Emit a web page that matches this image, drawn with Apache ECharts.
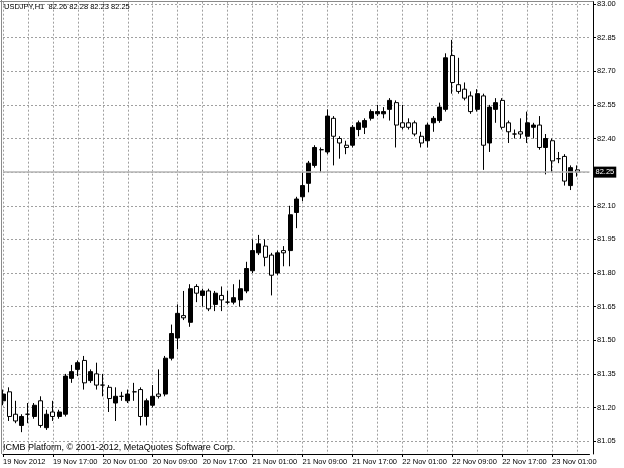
<!DOCTYPE html>
<html><head><meta charset="utf-8">
<script src="https://cdn.jsdelivr.net/npm/echarts@6/dist/echarts.min.js"></script>
<style>html,body{margin:0;padding:0;background:#fff}#c{width:624px;height:468px}</style>
</head><body><div id="c"></div>
<script>
const symbol = 'USDJPY,H1';
const footer = 'ICMB Platform, \u00a9 2001-2012, MetaQuotes Software Corp.';
const startHourUTC = Date.UTC(2012, 10, 19, 9);
const slots = 95; // 93 bars + 2 empty slots of chart shift
const tickLabels = ['19 Nov 2012','19 Nov 17:00','20 Nov 01:00','20 Nov 09:00','20 Nov 17:00','21 Nov 01:00',
  '21 Nov 09:00','21 Nov 17:00','22 Nov 01:00','22 Nov 09:00','22 Nov 17:00','23 Nov 01:00'];
const yTicks = [81.05,81.20,81.35,81.50,81.65,81.80,81.95,82.10,82.25,82.40,82.55,82.70,82.85,83.00];

const opens = [81.23,81.27,81.17,81.12,81.17,81.16,81.23,81.11,81.18,81.16,
  81.17,81.33,81.37,81.41,81.32,81.35,81.30,81.29,81.22,81.25,
  81.23,81.27,81.28,81.16,81.21,81.26,81.26,81.42,81.51,81.61,
  81.58,81.74,81.70,81.72,81.66,81.70,81.67,81.67,81.68,81.72,
  81.81,81.89,81.92,81.88,81.80,81.90,81.90,82.07,82.14,82.20,
  82.28,82.35,82.34,82.49,82.40,82.37,82.37,82.44,82.45,82.49,
  82.51,82.51,82.53,82.56,82.47,82.47,82.47,82.41,82.39,82.47,
  82.48,82.53,82.77,82.64,82.62,82.59,82.53,82.59,82.38,82.53,
  82.57,82.47,82.42,82.43,82.41,82.45,82.46,82.36,82.39,82.31,
  82.32,82.19,82.26];
const closes = [81.26,81.16,81.14,81.16,81.17,81.21,81.12,81.17,81.16,81.18,
  81.34,81.36,81.40,81.31,81.36,81.30,81.30,81.24,81.25,81.25,
  81.26,81.27,81.16,81.23,81.25,81.25,81.42,81.53,81.62,81.60,
  81.73,81.71,81.72,81.64,81.71,81.68,81.67,81.69,81.73,81.82,
  81.90,81.93,81.87,81.79,81.89,81.89,82.06,82.13,82.19,82.29,
  82.36,82.35,82.50,82.41,82.38,82.36,82.45,82.47,82.48,82.52,
  82.52,82.52,82.57,82.46,82.45,82.45,82.42,82.38,82.46,82.49,
  82.54,82.76,82.65,82.61,82.58,82.52,82.60,82.37,82.54,82.56,
  82.45,82.43,82.42,82.42,82.47,82.46,82.36,82.40,82.30,82.31,
  82.21,82.27,82.25];
const lows = [81.21,81.14,81.13,81.09,81.13,81.15,81.11,81.10,81.14,81.15,
  81.16,81.31,81.34,81.28,81.31,81.28,81.25,81.18,81.14,81.23,
  81.22,81.23,81.12,81.12,81.20,81.24,81.25,81.41,81.46,81.59,
  81.56,81.67,81.65,81.63,81.63,81.63,81.66,81.66,81.65,81.71,
  81.80,81.88,81.83,81.70,81.79,81.83,81.83,82.00,82.12,82.16,
  82.27,82.25,82.33,82.28,82.31,82.33,82.36,82.41,82.42,82.48,
  82.50,82.49,82.48,82.36,82.44,82.44,82.41,82.36,82.36,82.43,
  82.47,82.52,82.60,82.60,82.57,82.51,82.52,82.26,82.34,82.47,
  82.44,82.38,82.40,82.40,82.38,82.40,82.35,82.24,82.25,82.29,
  82.19,82.17,82.23];
const highs = [81.28,81.29,81.23,81.17,81.22,81.22,81.25,81.19,81.23,81.19,
  81.35,81.39,81.41,81.43,81.37,81.40,81.35,81.30,81.29,81.27,
  81.28,81.31,81.29,81.24,81.30,81.37,81.43,81.57,81.66,81.72,
  81.75,81.75,81.73,81.73,81.72,81.74,81.72,81.75,81.77,81.85,
  81.95,81.97,81.95,81.89,81.90,81.92,82.10,82.14,82.25,82.30,
  82.37,82.36,82.53,82.50,82.41,82.39,82.46,82.48,82.49,82.53,
  82.55,82.54,82.58,82.57,82.55,82.49,82.48,82.43,82.47,82.50,
  82.56,82.78,82.84,82.76,82.65,82.61,82.62,82.60,82.55,82.58,
  82.58,82.48,82.44,82.49,82.52,82.47,82.50,82.42,82.40,82.34,
  82.33,82.28,82.28];

const FONT = "'Liberation Sans', Arial, sans-serif";
const mon = ['Jan','Feb','Mar','Apr','May','Jun','Jul','Aug','Sep','Oct','Nov','Dec'];
const categories = [];
for (let i = 0; i < slots; i++) {
  const d = new Date(startHourUTC + i * 3600000);
  categories.push(d.getUTCDate() + ' ' + mon[d.getUTCMonth()] + ' ' +
    String(d.getUTCHours()).padStart(2, '0') + ':00');
}
const candles = opens.map((o, i) => [o, closes[i], lows[i], highs[i]]);
const last = opens.length - 1;
const titleText = symbol + '  ' + opens[last].toFixed(2) + ' ' + highs[last].toFixed(2) + ' ' +
  lows[last].toFixed(2) + ' ' + closes[last].toFixed(2);

const gridStyle = { color: '#a0a0a0', width: 1, type: [2, 2] };
const chart = echarts.init(document.getElementById('c'), null, { renderer: 'canvas' });
chart.setOption({
  animation: false,
  backgroundColor: '#fff',
  title: [
    { text: titleText, left: 4, top: 2.5, padding: 0,
      textStyle: { fontSize: 7.5, fontWeight: 'normal', color: '#000', fontFamily: FONT } },
    { text: footer, left: 3, top: 443.5, padding: 0,
      textStyle: { fontSize: 9, fontWeight: 'normal', color: '#000', fontFamily: FONT } }
  ],
  grid: { left: 2, top: 1, width: 587.5, height: 453 },
  xAxis: {
    type: 'category', data: categories, boundaryGap: false,
    axisLine: { show: true, lineStyle: { color: '#000', width: 1 } },
    axisTick: { show: true, interval: 7, length: 3, lineStyle: { color: '#000' } },
    axisLabel: { interval: 7, align: 'left', margin: 4, fontSize: 7.5, color: '#000', fontFamily: FONT,
      formatter: (v, idx) => tickLabels[Math.round(idx / 8)] || '' },
    splitLine: { show: true, interval: 3, lineStyle: gridStyle }
  },
  yAxis: {
    type: 'value', position: 'right', offset: 3.5, min: 80.9926, max: 83.0104,
    axisLine: { show: true, lineStyle: { color: '#000', width: 1 } },
    axisTick: { show: true, length: 3, customValues: yTicks, lineStyle: { color: '#000' } },
    axisLabel: { customValues: yTicks, margin: 4, fontSize: 7.5, color: '#000', fontFamily: FONT,
      formatter: v => v.toFixed(2) },
    splitLine: { show: true, lineStyle: gridStyle }
  },
  graphic: [
    { type: 'line', shape: { x1: 1.5, y1: 0, x2: 1.5, y2: 454 }, style: { stroke: '#8a8a8a', lineWidth: 1 }, z: 100 },
    { type: 'line', shape: { x1: 0, y1: 1.5, x2: 593, y2: 1.5 }, style: { stroke: '#8a8a8a', lineWidth: 1 }, z: 100 }
  ],
  series: [{
    type: 'candlestick', data: candles, barWidth: 4.5,
    itemStyle: { color: '#000', color0: '#fff', borderColor: '#000', borderColor0: '#000', borderWidth: 1 },
    markLine: {
      silent: true, symbol: ['none', 'none'],
      lineStyle: { color: '#b4b4b4', type: 'solid', width: 1.5 },
      label: { position: 'end', distance: 4, formatter: p => p.value.toFixed(2),
        backgroundColor: '#000', color: '#fff', fontSize: 7.5, fontFamily: FONT, padding: [2, 2, 1, 2] },
      data: [{ yAxis: closes[last] }]
    }
  }]
});
</script></body></html>
